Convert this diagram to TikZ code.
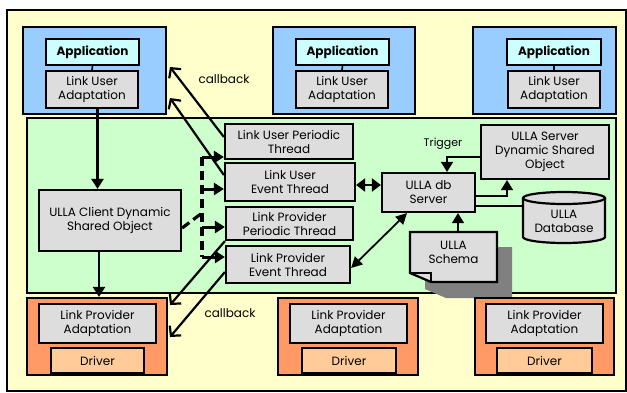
\documentclass[tikz,border=0pt]{standalone}
\usepackage{fontspec}
\setmainfont{Poppins}
\usetikzlibrary{arrows.meta,calc}
\definecolor{bgyellow}{HTML}{FFFFCC}
\definecolor{bluebg}{HTML}{99CCFF}
\definecolor{appcyan}{HTML}{CCFFFF}
\definecolor{greenbg}{HTML}{CCFFCC}
\definecolor{boxgray}{HTML}{DDDDDD}
\definecolor{orangebg}{HTML}{FF9966}
\definecolor{drvorange}{HTML}{FFCC99}
\definecolor{shadowgray}{HTML}{808080}
\tikzset{
  panel/.style={draw=black, line width=2.2pt, inner sep=0pt},
  gbox/.style={draw=black, fill=boxgray, line width=2.2pt, align=center, inner sep=1pt, font=\fontsize{12}{14}\selectfont},
  appbox/.style={draw=black, fill=appcyan, line width=2.2pt, align=center, inner sep=1pt, font=\fontsize{12}{14}\selectfont\bfseries},
  drvbox/.style={draw=black, fill=drvorange, line width=2.2pt, align=center, inner sep=1pt, font=\fontsize{12}{14}\selectfont},
  lbl/.style={font=\fontsize{12}{14}\selectfont},
  solidarr/.style={line width=2.2pt, -{Triangle[length=10pt,width=12pt]}},
  cbarr/.style={line width=2.2pt, -{Straight Barb[length=7pt,width=15pt,line width=2.2pt]}},
  dasharr/.style={line width=3pt, -{Triangle[length=10pt,width=12pt]}},
  dashtrunk/.style={line width=3.2pt, dash pattern=on 9pt off 5pt},
  thinarr/.style={line width=1.6pt, -{Triangle[length=10pt,width=12pt]}},
}
\begin{document}
\begin{tikzpicture}[x=1pt,y=-1pt]
\useasboundingbox (0,0) rectangle (627,392);
\fill[white] (0,0) rectangle (627,392);
% outer frame
\draw[fill=bgyellow, line width=1.4pt] (7,10) rectangle (626,391);

% application panels
\node[panel, fill=bluebg, minimum width=143pt, minimum height=87pt] (blue1) at (94.5,70.5) {};
\node[panel, fill=bluebg, minimum width=142pt, minimum height=87pt] (blue2) at (344,70.5) {};
\node[panel, fill=bluebg, minimum width=143pt, minimum height=87pt] (blue3) at (544.5,70.5) {};

\node[appbox, minimum width=93pt, minimum height=26pt] (app1) at (92.5,52) {Application};
\node[gbox, minimum width=92pt, minimum height=37pt] (lua1) at (92,89.5) {Link User\\Adaptation};
\node[appbox, minimum width=93pt, minimum height=26pt] (app2) at (342.5,52) {Application};
\node[gbox, minimum width=92pt, minimum height=37pt] (lua2) at (342,89.5) {Link User\\Adaptation};
\node[appbox, minimum width=94pt, minimum height=26pt] (app3) at (554,52) {Application};
\node[gbox, minimum width=92pt, minimum height=37pt] (lua3) at (554,89.5) {Link User\\Adaptation};
\foreach \i in {1,2,3} {\draw[line width=1.6pt] (app\i.south) -- (lua\i.north);}

% ULLA core panel
\node[draw=black, line width=1.6pt, fill=greenbg, minimum width=589pt, minimum height=175pt] (green) at (321.5,205.5) {};

% schema shadow
\fill[shadowgray] (425,247) -- (512,247) -- (512,298) -- (446,298) -- (425,289) -- cycle;

% threads
\node[gbox, minimum width=128pt, minimum height=35pt] (lupt) at (289,141.5) {Link User Periodic\\Thread};
\node[gbox, minimum width=130pt, minimum height=38pt] (luet) at (290,182) {Link User\\Event Thread};
\node[gbox, minimum width=127pt, minimum height=33pt] (lppt) at (289.5,223.5) {Link Provider\\Periodic Thread};
\node[gbox, minimum width=124pt, minimum height=37pt] (lpet) at (288,264.5) {Link Provider\\Event Thread};

\node[gbox, minimum width=142pt, minimum height=61pt] (client) at (110,220.5) {ULLA Client Dynamic\\Shared Object};
\node[gbox, minimum width=93pt, minimum height=39pt] (db) at (428.5,192.5) {ULLA db\\Server};
\node[gbox, minimum width=128pt, minimum height=54pt] (sdso) at (545,152) {ULLA Server\\Dynamic Shared\\Object};

% database cylinder
\filldraw[fill=boxgray, line width=2.2pt] (523,198) -- (523,237)
  arc[start angle=180, end angle=360, x radius=41pt, y radius=6pt] -- (605,198);
\filldraw[fill=boxgray, line width=2.2pt] (564,198) ellipse [x radius=41pt, y radius=6pt];
\node[lbl, align=center, minimum width=82pt, minimum height=51pt] (dbase) at (564,221) {ULLA\\Database};

% schema document with folded corner
\coordinate (schema) at (453.5,252);
\filldraw[fill=boxgray, line width=2.2pt] (410,232) -- (497,232) -- (497,282) -- (431,282) -- (410,273) -- cycle;
\draw[line width=1.6pt] (410,273) -- (431,273) -- (431,282);
\node[lbl, align=center] (schematext) at (schema) {ULLA\\Schema};
\coordinate (schematop) at (458,232);

% provider panels
\node[panel, fill=orangebg, minimum width=140pt, minimum height=77pt] (or1) at (97,336.5) {};
\node[panel, fill=orangebg, minimum width=140pt, minimum height=77pt] (or2) at (348,336.5) {};
\node[panel, fill=orangebg, minimum width=139pt, minimum height=77pt] (or3) at (544.5,336.5) {};
\node[gbox, minimum width=117pt, minimum height=39pt] (lpa1) at (97.5,323.5) {Link Provider\\Adaptation};
\node[drvbox, minimum width=93pt, minimum height=25pt] (drv1) at (97.5,360.5) {Driver};
\node[gbox, minimum width=117pt, minimum height=39pt] (lpa2) at (348.5,323.5) {Link Provider\\Adaptation};
\node[drvbox, minimum width=94pt, minimum height=25pt] (drv2) at (349,360.5) {Driver};
\node[gbox, minimum width=117pt, minimum height=39pt] (lpa3) at (544.5,323.5) {Link Provider\\Adaptation};
\node[drvbox, minimum width=95pt, minimum height=25pt] (drv3) at (544.5,360.5) {Driver};

% vertical calls
\coordinate (xa) at (97.5,0);
\coordinate (xb) at (99,0);
\draw[solidarr] (lua1.south -| xa) -- (client.north -| xa);
\draw[solidarr] (client.south -| xb) -- (or1.north -| xb);

% callbacks
\coordinate (cb1) at (170,67);
\coordinate (cb2) at (170,98);
\coordinate (cb3) at (170,305);
\coordinate (cb4) at (170,337);
\draw[cbarr] ([yshift=4.5pt]lupt.west) -- (cb1);
\draw[cbarr] ([yshift=7pt]luet.west) -- (cb2);
\draw[cbarr] (lppt.south west) -- (cb3);
\draw[cbarr] ([yshift=-7.5pt]lpet.west) -- (cb4);
\node[lbl] (cbtop) at (224,79) {callback};
\node[lbl] (cbbot) at (230,313) {callback};

% dashed dispatch from client to threads
\coordinate (d1) at (202,157);
\coordinate (d2) at (202,189);
\coordinate (d3) at (202,227);
\coordinate (d4) at (202,257);
\coordinate (dm) at (202,213);
\draw[dashtrunk] ([yshift=-7.5pt]client.east) -- (dm);
\draw[dashtrunk] (d1) -- (d4);
\draw[dasharr] (d1) -- (d1 -| lupt.west);
\draw[dasharr] (d2) -- (d2 -| luet.west);
\draw[dasharr] (d3) -- (d3 -| lppt.west);
\draw[dasharr] (d4) -- (d4 -| lpet.west);

% server links
\coordinate (ye) at (0,185);
\draw[line width=2.4pt, {Triangle[length=9pt,width=13pt]}-{Triangle[length=9pt,width=13pt]}] (luet.east |- ye) -- (db.west |- ye);
\draw[line width=1.8pt, {Triangle[length=11pt,width=11pt]}-{Triangle[length=11pt,width=11pt]}] ([yshift=-3.5pt]lpet.east) -- ([xshift=-21.5pt]db.south);
\draw[thinarr] ([yshift=-5pt]sdso.west) -| ([xshift=18.5pt]db.north);
\node[font=\fontsize{11}{13}\selectfont] (trig) at (443,144) {Trigger};
\draw[thinarr] ([yshift=-3.5pt]db.east) -| ([xshift=-38pt]sdso.south);
\draw[line width=1.6pt] ([yshift=-13.5pt]db.east) -- ++(48,0);
\draw[thinarr] (schematop) -- (schematop |- db.south);
\end{tikzpicture}
\end{document}
